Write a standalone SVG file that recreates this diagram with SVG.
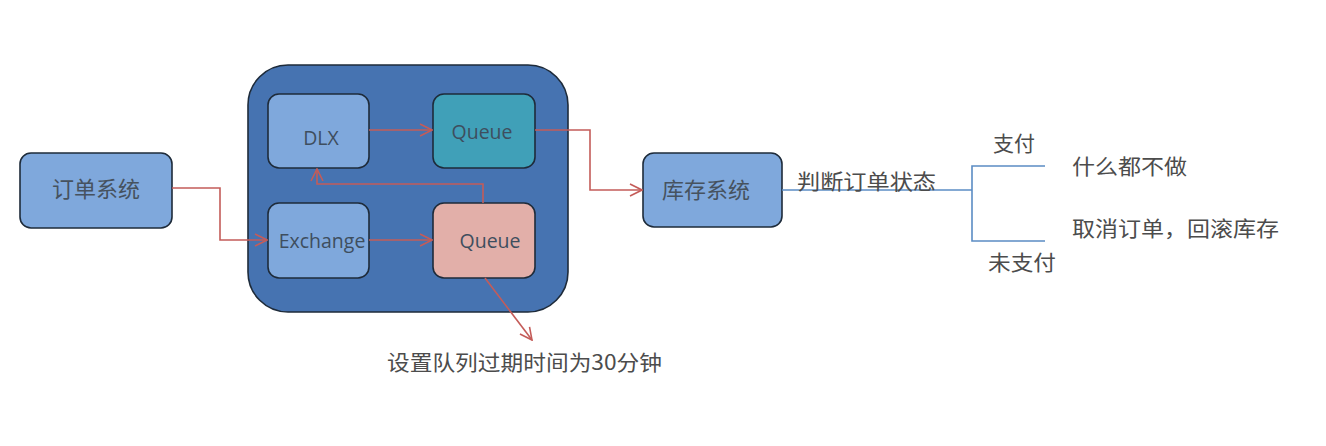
<svg xmlns="http://www.w3.org/2000/svg" width="1326" height="446" viewBox="0 0 1326 446">
<style>
.node{stroke:#1e2b3a;stroke-width:1.6}
.light{fill:#7fa8dc}
.ntxt{font-family:"Noto Sans CJK SC","Noto Sans",sans-serif;font-size:22px;fill:#46525f;text-anchor:middle}
.etxt{font-family:"Open Sans","Noto Sans",sans-serif;font-size:19.5px;fill:#3e4e5e;text-anchor:middle}
.lbl{font-family:"Noto Sans CJK SC",sans-serif;font-size:21px;fill:#4c4c4c}
.red{fill:none;stroke:#c45c59;stroke-width:1.6}
.blue{fill:none;stroke:#5b8cc4;stroke-width:1.6}
</style>
<defs>
<marker id="arr" viewBox="0 0 14 14" refX="13" refY="7" markerWidth="14" markerHeight="14" markerUnits="userSpaceOnUse" orient="auto">
<path d="M1,1 L13,7 L1,13" fill="none" stroke="#c45c59" stroke-width="1.6"/>
</marker>
</defs>
<rect width="1326" height="446" fill="#ffffff"/>
<g id="container">
<rect x="248" y="65" width="320" height="247" rx="40" ry="40" fill="#4673b1" class="node"/>
</g>
<g id="order">
<rect x="20" y="153" width="152" height="75" rx="11" class="node light"/>
<text x="96" y="197" class="ntxt">订单系统</text>
</g>
<g id="dlx">
<rect x="268" y="94" width="101" height="74" rx="11" class="node light"/>
<text x="321" y="145" class="etxt">DLX</text>
</g>
<g id="queue1">
<rect x="433" y="94" width="102" height="74" rx="11" class="node" fill="#40a0b8"/>
<text x="482" y="139" class="etxt">Queue</text>
</g>
<g id="exchange">
<rect x="268" y="203" width="101" height="75" rx="11" class="node light"/>
<text x="322" y="248" class="etxt">Exchange</text>
</g>
<g id="queue2">
<rect x="433" y="203" width="102" height="75" rx="11" class="node" fill="#e2afa9"/>
<text x="490" y="248" class="etxt">Queue</text>
</g>
<g id="stock">
<rect x="643" y="153" width="139" height="74" rx="11" class="node light"/>
<text x="706" y="198" class="ntxt">库存系统</text>
</g>
<g id="connectors">
<polyline points="172,188 220,188 220,240 267,240" class="red" marker-end="url(#arr)"/>
<line x1="369" y1="240" x2="432" y2="240" class="red" marker-end="url(#arr)"/>
<line x1="369" y1="130" x2="432" y2="130" class="red" marker-end="url(#arr)"/>
<polyline points="483,203 483,184 317,184 317,169" class="red" marker-end="url(#arr)"/>
<polyline points="535,130 590,130 590,190 642,190" class="red" marker-end="url(#arr)"/>
<line x1="485" y1="278" x2="532" y2="340" class="red" marker-end="url(#arr)"/>
<polyline points="782,190 972,190" class="blue"/>
<polyline points="1045,166 972,166 972,241 1045,241" class="blue"/>
</g>
<g id="labels">
<text x="797" y="189" class="lbl" textLength="139" lengthAdjust="spacingAndGlyphs">判断订单状态</text>
<text x="993" y="151" class="lbl" textLength="42" lengthAdjust="spacingAndGlyphs">支付</text>
<text x="988" y="270" class="lbl" textLength="68" lengthAdjust="spacingAndGlyphs">未支付</text>
<text x="1072" y="174" class="lbl" textLength="115" lengthAdjust="spacingAndGlyphs">什么都不做</text>
<text x="1072" y="236" class="lbl" textLength="207" lengthAdjust="spacingAndGlyphs">取消订单，回滚库存</text>
<text x="387" y="370" class="lbl" textLength="275" lengthAdjust="spacingAndGlyphs">设置队列过期时间为30分钟</text>
</g>
</svg>
